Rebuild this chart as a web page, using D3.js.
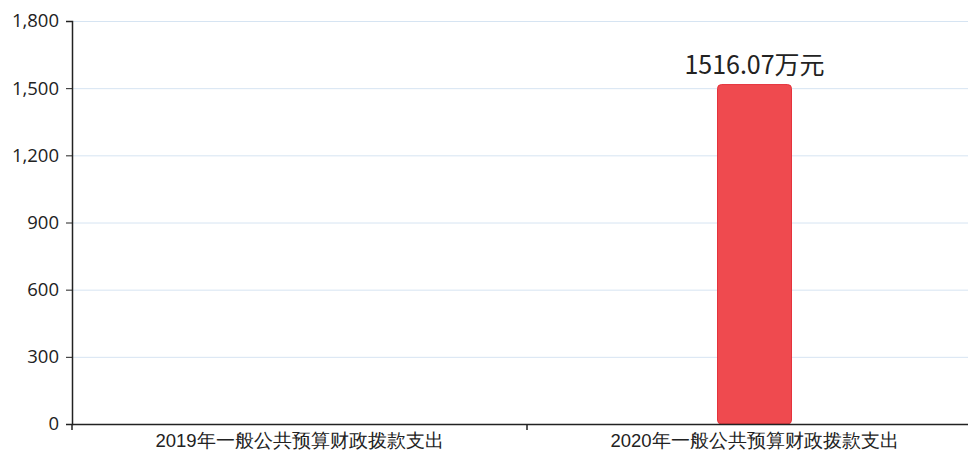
<!DOCTYPE html>
<html><head><meta charset="utf-8">
<script src="https://cdn.jsdelivr.net/npm/d3@7"></script>
<style>
html,body{margin:0;padding:0;background:#fff;}
svg{display:block;font-family:"Noto Sans CJK SC","Noto Sans",sans-serif;}
</style></head>
<body><svg id="c" width="968" height="452"></svg>
<script>
const categories = ["2019年一般公共预算财政拨款支出", "2020年一般公共预算财政拨款支出"];
const values = [0, 1516.07];
const valueLabels = ["", "1516.07万元"];
const yTicks = [0, 300, 600, 900, 1200, 1500, 1800];

const svg = d3.select("#c");
const m = {left: 72, top: 21, bottom: 424, right: 982};
const x = d3.scaleBand().domain(categories).range([m.left, m.right]).paddingInner(0).paddingOuter(0);
const y = d3.scaleLinear().domain([0, 1800]).range([m.bottom, m.top]);

// grid
svg.append("g").selectAll("line").data(yTicks.filter(d => d > 0)).join("line")
  .attr("x1", m.left).attr("x2", m.right)
  .attr("y1", d => y(d) + 0.5).attr("y2", d => y(d) + 0.5)
  .attr("stroke", "#d6e4f2").attr("stroke-width", 1);

// bars
const bw = 74;
svg.append("g").selectAll("rect").data(values.map((v, i) => ({c: categories[i], v}))).join("rect")
  .filter(d => d.v > 0)
  .attr("x", d => x(d.c) + x.bandwidth() / 2 - bw / 2)
  .attr("y", d => y(d.v))
  .attr("width", bw)
  .attr("height", d => y(0) - y(d.v))
  .attr("rx", 4).attr("ry", 4)
  .attr("fill", "#ef4a4f").attr("stroke", "#e5333c").attr("stroke-width", 1);

// value labels
svg.append("g").selectAll("text").data(values.map((v, i) => ({c: categories[i], v, t: valueLabels[i]}))).join("text")
  .attr("x", d => x(d.c) + x.bandwidth() / 2)
  .attr("y", d => y(d.v) - 11)
  .attr("text-anchor", "middle")
  .attr("font-size", 25).attr("fill", "#222")
  .text(d => d.t);

// y axis
const ya = svg.append("g").attr("transform", `translate(${m.left},0)`)
  .call(d3.axisLeft(y).tickValues(yTicks).tickSize(6).tickPadding(7).tickFormat(d3.format(",")));
ya.select(".domain").attr("stroke", "#222").attr("stroke-width", 1.5);
ya.selectAll(".tick line").attr("stroke", "#222");
ya.selectAll("text").attr("font-size", 18.5).attr("fill", "#222").attr("font-family", "'Open Sans','Noto Sans',sans-serif");

// x axis
const xa = svg.append("g").attr("transform", `translate(0,${m.bottom})`)
  .call(d3.axisBottom(x).tickSize(0).tickPadding(10));
xa.select(".domain").attr("stroke", "#222").attr("stroke-width", 1.5);
xa.selectAll("text").attr("font-size", 18.5).attr("fill", "#222");
// tick marks at band boundaries
xa.selectAll(".bt").data([m.left, x(categories[1])]).join("line").attr("class", "bt")
  .attr("x1", d => d).attr("x2", d => d).attr("y1", 0).attr("y2", 6)
  .attr("stroke", "#222").attr("stroke-width", 1.5);
</script></body></html>
